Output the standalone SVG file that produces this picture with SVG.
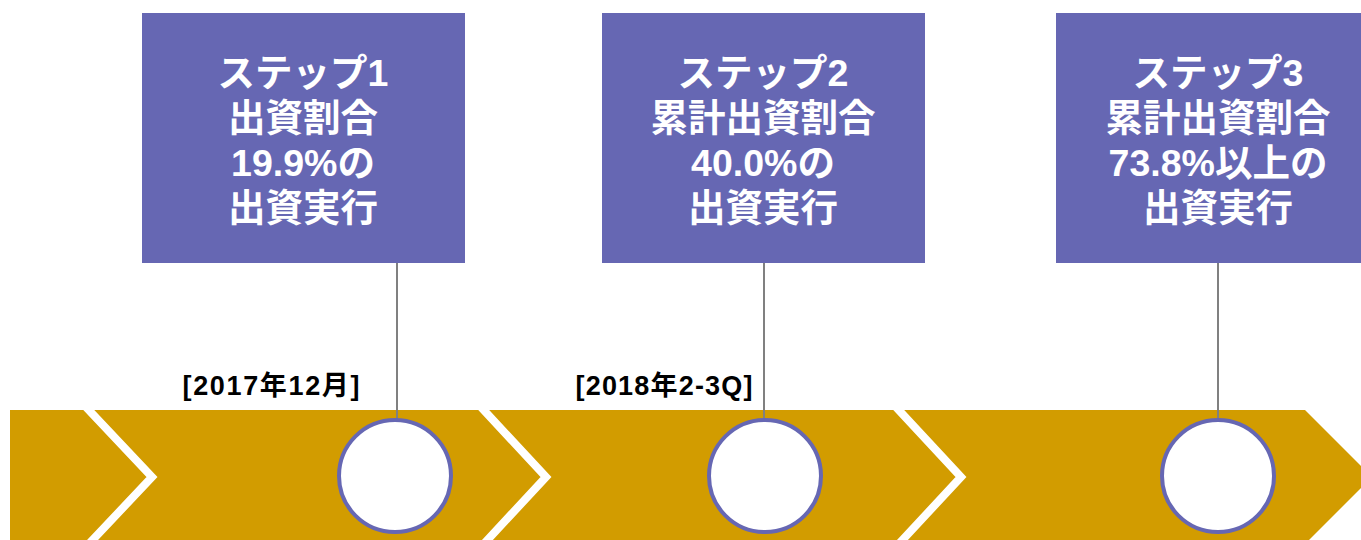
<svg xmlns="http://www.w3.org/2000/svg" width="1361" height="540" viewBox="0 0 1361 540">
<style>
.box{fill:#6667B3}
.bt{font-family:"Liberation Sans","Noto Sans CJK JP",sans-serif;font-weight:bold;font-size:37.5px;fill:#fff;text-anchor:middle}
.lbl{font-family:"Liberation Sans","Noto Sans CJK JP",sans-serif;font-weight:bold;font-size:27px;fill:#000;text-anchor:middle}
.sep{fill:none;stroke:#fff;stroke-width:8;stroke-linejoin:miter}
.dot{fill:#fff;stroke:#6667B3;stroke-width:4}
.ln{stroke:#808080;stroke-width:2}
</style>
<rect width="1361" height="540" fill="#fff"/>
<g id="band">
<polygon points="10,410 1305,410 1372,477 1305,544 10,544" fill="#D29C00"/>
<polyline class="sep" points="85,406 152,477 85,548"/>
<polyline class="sep" points="480,406 546,477 480,548"/>
<polyline class="sep" points="895,406 961,477 895,548"/>
<rect x="0" y="400" width="1361" height="10" fill="#fff"/>
</g>
<g id="connectors">
<line class="ln" x1="397" y1="263" x2="397" y2="420"/>
<line class="ln" x1="764" y1="263" x2="764" y2="420"/>
<line class="ln" x1="1218" y1="263" x2="1218" y2="420"/>
</g>
<g id="step1">
<rect class="box" x="142" y="13" width="323" height="250"/>
<text class="bt" x="303" y="86">ステップ1</text>
<text class="bt" x="303" y="131">出資割合</text>
<text class="bt" x="303" y="176">19.9%の</text>
<text class="bt" x="303" y="221">出資実行</text>
</g>
<g id="step2">
<rect class="box" x="602" y="13" width="323" height="250"/>
<text class="bt" x="763" y="86">ステップ2</text>
<text class="bt" x="763" y="131">累計出資割合</text>
<text class="bt" x="763" y="176">40.0%の</text>
<text class="bt" x="763" y="221">出資実行</text>
</g>
<g id="step3">
<rect class="box" x="1056" y="13" width="323" height="250"/>
<text class="bt" x="1218" y="86">ステップ3</text>
<text class="bt" x="1218" y="131">累計出資割合</text>
<text class="bt" x="1218" y="176">73.8%以上の</text>
<text class="bt" x="1218" y="221">出資実行</text>
</g>
<g id="date1"><text class="lbl" x="271" y="395" textLength="177" lengthAdjust="spacing">[2017年12月]</text></g>
<g id="date2"><text class="lbl" x="664" y="395" textLength="177" lengthAdjust="spacing">[2018年2-3Q]</text></g>
<g id="circle1"><circle class="dot" cx="395" cy="476" r="56"/></g>
<g id="circle2"><circle class="dot" cx="765" cy="476" r="56"/></g>
<g id="circle3"><circle class="dot" cx="1218" cy="476" r="56"/></g>
</svg>
